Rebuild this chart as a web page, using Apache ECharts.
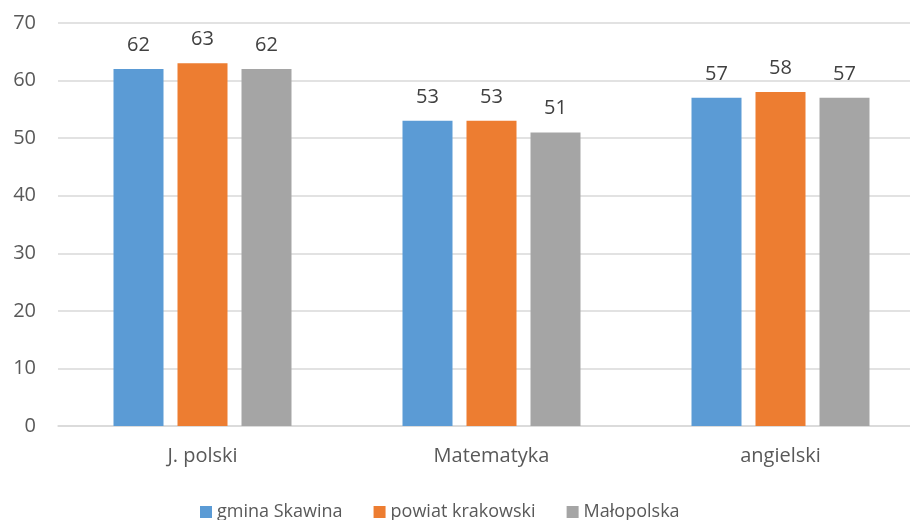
<!DOCTYPE html>
<html>
<head>
<meta charset="utf-8">
<script src="https://cdn.jsdelivr.net/npm/echarts@6/dist/echarts.min.js"></script>
<style>
  html, body { margin: 0; padding: 0; background: #fff; }
  #chart { width: 910px; height: 520px; }
</style>
</head>
<body>
<div id="chart"></div>
<script>
  // subjects and results
  var categories = ['J. polski', 'Matematyka', 'angielski'];
  var gminaSkawina = [62, 53, 57];
  var powiatKrakowski = [63, 53, 58];
  var malopolska = [62, 51, 57];
  var yTicks = [0, 10, 20, 30, 40, 50, 60, 70];

  var font = '"Open Sans", "Noto Sans", sans-serif';

  function bar(name, data, color) {
    return {
      name: name,
      type: 'bar',
      data: data,
      barWidth: 50,
      barGap: '28%',
      itemStyle: { color: color },
      label: {
        show: true,
        position: 'top',
        distance: 14,
        color: '#404040',
        fontSize: 20,
        fontFamily: font
      }
    };
  }

  var myChart = echarts.init(document.getElementById('chart'));
  myChart.setOption({
    animation: false,
    grid: {
      left: 58, top: 23, width: 867, height: 403,
      containLabel: false,
      outerBoundsMode: 'none'
    },
    legend: {
      top: 498,
      left: 195,
      itemWidth: 12,
      itemHeight: 12,
      itemGap: 31,
      icon: 'rect',
      textStyle: { color: '#595959', fontSize: 18, fontFamily: font },
      data: ['gmina Skawina', 'powiat krakowski', 'Małopolska']
    },
    xAxis: {
      type: 'category',
      data: categories,
      axisLine: { lineStyle: { color: '#d9d9d9', width: 1.5 } },
      axisTick: { show: false },
      axisLabel: { color: '#595959', fontSize: 20, fontFamily: font, margin: 20 }
    },
    yAxis: {
      type: 'value',
      min: yTicks[0],
      max: yTicks[yTicks.length - 1],
      interval: 10,
      axisLine: { show: false },
      axisTick: { show: false },
      splitLine: { lineStyle: { color: '#d9d9d9', width: 1.5 } },
      axisLabel: { color: '#595959', fontSize: 20, fontFamily: font, margin: 22 }
    },
    series: [
      bar('gmina Skawina', gminaSkawina, '#5B9BD5'),
      bar('powiat krakowski', powiatKrakowski, '#ED7D31'),
      bar('Małopolska', malopolska, '#A5A5A5')
    ]
  });
</script>
</body>
</html>
